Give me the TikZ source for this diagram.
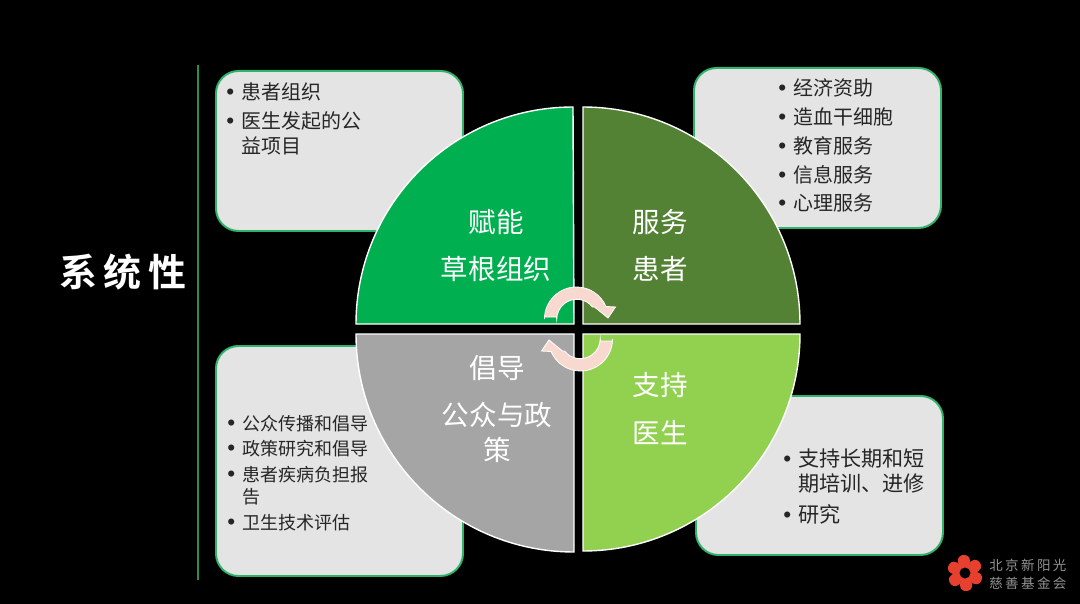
\documentclass[tikz,border=0pt]{standalone}
\usepackage{fontspec}
\setmainfont{Noto Sans CJK SC}
\newfontfamily\titlefont[LetterSpace=16]{Noto Sans CJK SC Bold}
\newfontfamily\logofont[LetterSpace=18]{Noto Sans CJK SC}
\newfontfamily\bulfont{Liberation Sans}
\usepackage{xcolor}
\definecolor{edgegreen}{HTML}{2FB36A}
\definecolor{boxgray}{HTML}{E4E4E4}
\definecolor{inktext}{HTML}{262626}
\definecolor{arrowpink}{HTML}{F8D9D0}
\definecolor{logored}{HTML}{E8402E}
\definecolor{quadtl}{HTML}{00B050}
\definecolor{quadtr}{HTML}{548235}
\definecolor{quadbl}{HTML}{A5A5A5}
\definecolor{quadbr}{HTML}{92D050}
\newcommand{\bul}{\makebox[10.7pt][l]{\bulfont\fontsize{16}{16}\selectfont •}}
\newcommand{\nobul}{\makebox[10.7pt][l]{}}
\tikzset{
  infobox/.style={draw=edgegreen,line width=1.4pt,fill=boxgray,rounded corners=16pt,inner sep=0pt,anchor=north west},
  listtext/.style={text=inktext,align=left,inner sep=0pt,anchor=north west},
  quadtext/.style={text=white,font=\fontsize{19.6}{24}\selectfont,inner sep=0pt},
  quadrant/.style={draw=white,line width=1pt}
}
\newcommand{\turnarrow}{
  \draw[draw=white,line width=0.6pt,fill=arrowpink]
    (-34,-12) -- (-34,-10) arc[start angle=180,end angle=337,radius=32]
    -- (37,-22) -- (29.5,-11) -- (16,-22) -- (14,-22)
    arc[start angle=322,end angle=180,radius=20] -- (-22,-12) -- cycle;
}
\begin{document}
\begin{tikzpicture}[x=0.025cm,y=-0.025cm]
    \fill[black] (0,0) rectangle (1080,604);
    \useasboundingbox (0,0) rectangle (1080,604);
    \draw[edgegreen!80!black,line width=1.2pt] (198,65) -- (198,580);
    \node[text=white,inner sep=0pt,font=\fontsize{27}{32}\titlefont] (title) at (123,272) {系统性};

    \node[infobox,minimum width=247*0.025cm,minimum height=160*0.025cm] (tlbox) at (215,70) {};
    \node[infobox,minimum width=247*0.025cm,minimum height=160*0.025cm] (trbox) at (693,67) {};
    \node[infobox,minimum width=247*0.025cm,minimum height=230*0.025cm] (blbox) at (215,345) {};
    \node[infobox,minimum width=247*0.025cm,minimum height=159*0.025cm] (brbox) at (695,395) {};

    % quarter discs
    \draw[quadrant,fill=quadtl] (574,324) -- (356,324) arc[start angle=180,end angle=270,radius=217] -- cycle;
    \draw[quadrant,fill=quadtr] (583,324) -- (583,107) arc[start angle=270,end angle=360,radius=217] -- cycle;
    \draw[quadrant,fill=quadbl] (574,334) -- (574,552) arc[start angle=90,end angle=180,radius=218] -- cycle;
    \draw[quadrant,fill=quadbr] (583,334) -- (800,334) arc[start angle=0,end angle=90,radius=217] -- cycle;

    \node[listtext,font=\fontsize{14.2}{17.8}\selectfont] (tltext) at (226,82) {\bul 患者组织\\[2.8pt]\bul 医生发起的公\\\nobul 益项目};
    \node[listtext,font=\fontsize{14.2}{20.6}\selectfont] (trtext) at (778,78) {\bul 经济资助\\\bul 造血干细胞\\\bul 教育服务\\\bul 信息服务\\\bul 心理服务};
    \node[listtext,font=\fontsize{12.8}{15.8}\selectfont] (bltext) at (227,415) {\bul 公众传播和倡导\\[2.2pt]\bul 政策研究和倡导\\[2.2pt]\bul 患者疾病负担报\\\nobul 告\\[2.6pt]\bul 卫生技术评估};
    \node[listtext,font=\fontsize{15}{18.4}\selectfont] (brtext) at (783,448) {\bul 支持长期和短\\\nobul 期培训、进修\\[3.5pt]\bul 研究};

    \node[quadtext] (funeng) at (496,222) {赋能};
    \node[quadtext] (caogen) at (496,269) {草根组织};
    \node[quadtext] (fuwu) at (660,222) {服务};
    \node[quadtext] (huanzhe) at (660,269) {患者};
    \node[quadtext] (changdao) at (497,368) {倡导};
    \node[quadtext] (gongzhong) at (497,415) {公众与政};
    \node[quadtext] (zhengce) at (497,450) {策};
    \node[quadtext] (zhichi) at (660,385) {支持};
    \node[quadtext] (yisheng) at (660,433) {医生};

    % round arrows
    \begin{scope}[shift={(578.5,329)}]
      \turnarrow
    \end{scope}
    \begin{scope}[shift={(578.5,329)},rotate=180]
      \turnarrow
    \end{scope}

    % logo
    \begin{scope}[shift={(965,573)}]
      \foreach \a in {30,90,...,330}
        \fill[logored,rotate=\a] (4,0) .. controls (7,-10) and (19,-9) .. (18,0) .. controls (17,7) and (7,7) .. (4,0) -- cycle;
      \fill[logored] (0,0) circle[radius=8.5];
      \fill[black] (0,0) circle[radius=5.5];
    \end{scope}
    \node[text=gray!85,inner sep=0pt,align=left,font=\fontsize{9.6}{13}\logofont,anchor=west] (logotext) at (989,574) {北京新阳光\\慈善基金会};
\end{tikzpicture}
\end{document}
